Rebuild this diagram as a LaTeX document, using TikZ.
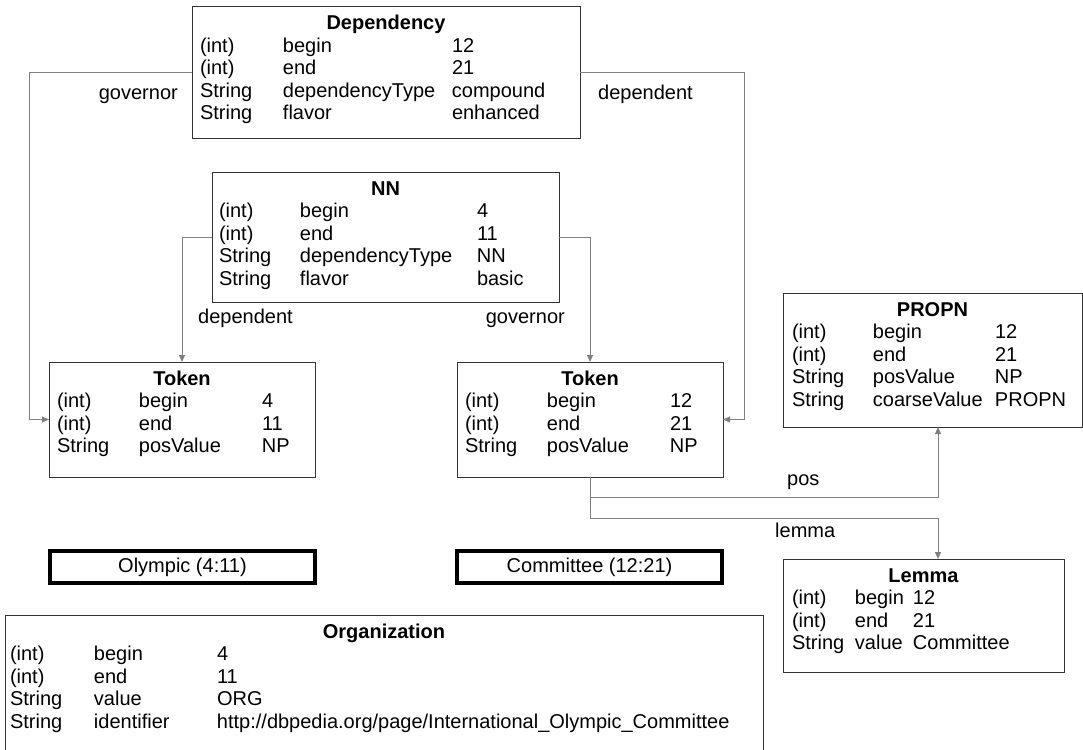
\documentclass[tikz,border=0pt]{standalone}
\usepackage{fontspec}
\setmainfont{Liberation Sans}
\usetikzlibrary{arrows.meta}
\setlength{\tabcolsep}{0pt}
% title row + attribute rows, column widths in pt
\newcommand{\umltab}[5]{\begin{tabular}[t]{@{}p{#1pt}p{#2pt}p{#3pt}@{}}\multicolumn{3}{c}{\textbf{#4}}\\#5\end{tabular}}

\begin{document}
\begin{tikzpicture}[x=1pt,y=-1pt,>={Triangle[length=7pt,width=6pt]},
    font=\fontsize{20}{22.5}\selectfont,
    umlbox/.style={draw=black!80,line width=1pt,anchor=north west,inner ysep=0pt,outer sep=0pt,text height=23pt},
    tokbox/.style={draw=black,line width=3.5pt,anchor=north west,inner sep=0pt,outer sep=0pt,minimum width=265pt,minimum height=32pt},
    conn/.style={draw=black!50,line width=1pt},
    lbl/.style={inner sep=0pt}]
    \useasboundingbox (0,0) rectangle (1083,749);

    % annotation boxes
    \node[umlbox,inner xsep=8pt,text depth=108pt] (dep) at (192,7)
        {\umltab{83}{169}{120}{Dependency}{(int)&begin&12\\(int)&end&21\\String&dependencyType&compound\\String&flavor&enhanced}};
    \node[umlbox,inner xsep=7pt,text depth=107pt] (nn) at (212,172)
        {\umltab{81}{177}{75}{NN}{(int)&begin&4\\(int)&end&11\\String&dependencyType&NN\\String&flavor&basic}};
    \node[umlbox,inner xsep=8pt,text depth=92pt] (tok1) at (49,362)
        {\umltab{82}{123}{45}{Token}{(int)&begin&4\\(int)&end&11\\String&posValue&NP}};
    \node[umlbox,inner xsep=8pt,text depth=92pt] (tok2) at (457,362)
        {\umltab{82}{123}{45}{Token}{(int)&begin&12\\(int)&end&21\\String&posValue&NP}};
    \node[umlbox,inner xsep=9pt,text depth=111pt] (propn) at (783,293)
        {\umltab{81}{122}{78}{PROPN}{(int)&begin&12\\(int)&end&21\\String&posValue&NP\\String&coarseValue&PROPN}};
    \node[umlbox,inner xsep=9pt,text depth=90pt] (lemma) at (783,559)
        {\umltab{63}{58}{142}{Lemma}{(int)&begin&12\\(int)&end&21\\String&value&Committee}};
    \node[umlbox,inner xsep=5pt,text depth=112pt] (org) at (5,615)
        {\umltab{84}{123}{541}{Organization}{(int)&begin&4\\(int)&end&11\\String&value&ORG\\String&identifier&http://dbpedia.org/page/International\_Olympic\_Committee}};

    % covered text
    \node[tokbox] (olympic) at (50,551) {Olympic (4:11)};
    \node[tokbox] (committee) at (457,551) {Committee (12:21)};

    % bends
    \coordinate (govx) at (29,0);
    \coordinate (depx) at (744,0);
    \coordinate (posturn) at (938,497);
    \coordinate (lemturn) at (938,518);

    \draw[conn,->] (dep.west) -- (dep.west -| govx) |- (tok1.west);
    \draw[conn,->] (dep.east) -- (dep.east -| depx) |- (tok2.east);
    \draw[conn,->] (nn.west) -| (tok1.north);
    \draw[conn,->] (nn.east) -| (tok2.north);
    \draw[conn,->] (tok2.south) |- (posturn) -- (posturn |- propn.south);
    \draw[conn,->] (tok2.south) |- (lemturn) -- (lemturn |- lemma.north);

    \node[lbl,anchor=base east] (govlbl) at (178,100) {governor};
    \node[lbl,anchor=base west] (deplbl) at (598,100) {dependent};
    \node[lbl,anchor=base west] (nndeplbl) at (198,323) {dependent};
    \node[lbl,anchor=base east] (nngovlbl) at (565,323) {governor};
    \node[lbl,anchor=base west] (poslbl) at (787,485) {pos};
    \node[lbl,anchor=base west] (lemlbl) at (775,537) {lemma};
\end{tikzpicture}
\end{document}
